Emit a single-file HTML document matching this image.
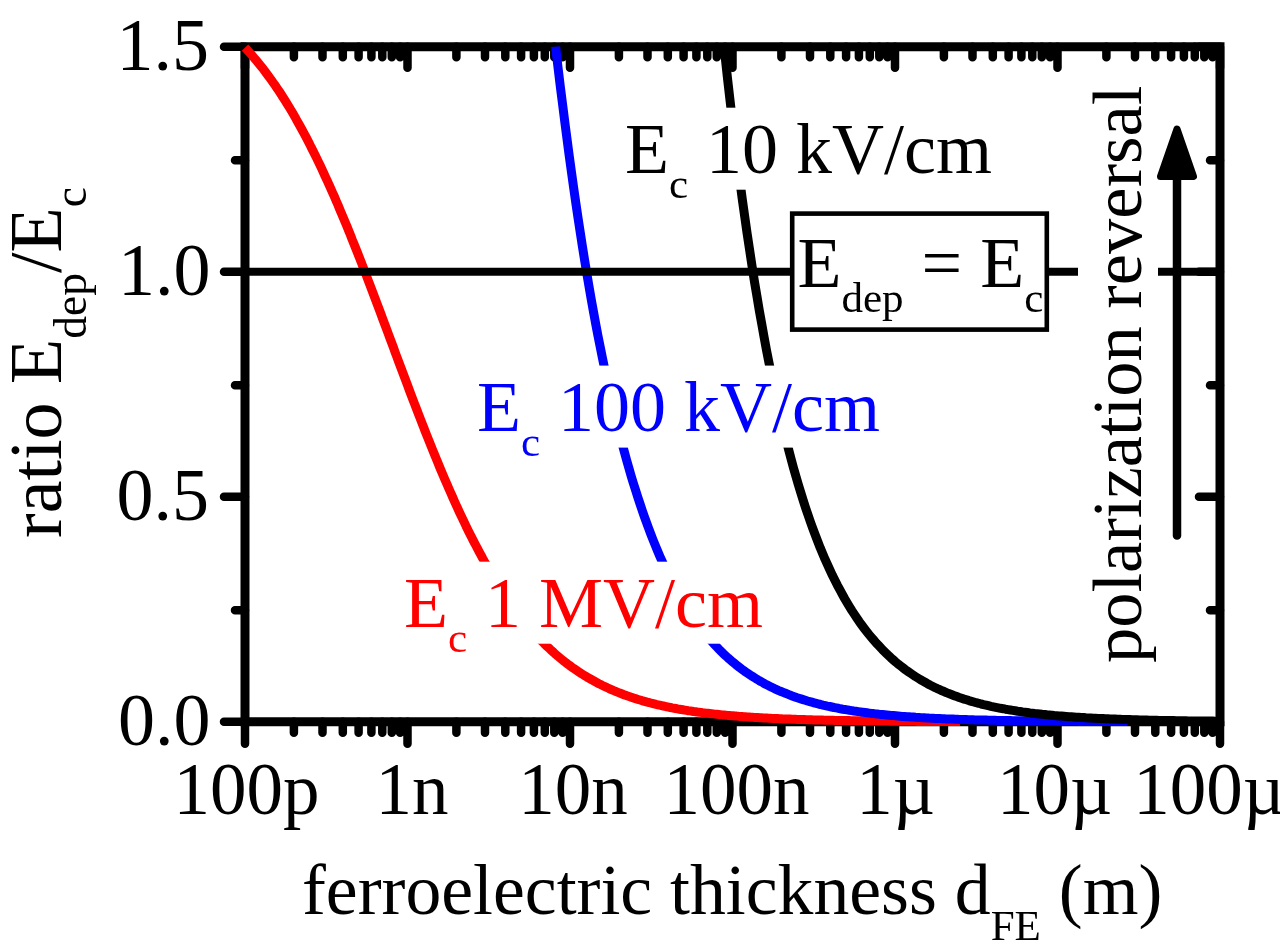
<!DOCTYPE html>
<html lang="en"><head><meta charset="utf-8"><title>Depolarization field ratio vs ferroelectric thickness</title>
<style>
html,body{margin:0;padding:0;background:#fff;}
body{width:1280px;height:951px;overflow:hidden;}
svg{display:block;filter:blur(0.75px);}
text{font-family:"Liberation Serif","Times New Roman",serif;font-size:72px;fill:#000;}
.sub{font-size:43px;}
.ax{stroke:#000;stroke-width:9;fill:none;stroke-linecap:round;}
.tk{stroke:#000;stroke-width:8.5;fill:none;stroke-linecap:round;}
.cv{fill:none;stroke-width:9;stroke-linejoin:round;stroke-linecap:butt;}
</style></head><body>
<svg width="1280" height="951" viewBox="0 0 1280 951">
<rect x="0" y="0" width="1280" height="951" fill="#fff"/>
<g class="ax">
<path d="M245.0 46.7 H1220.0 V721.8 H245.0 Z" stroke-linejoin="miter"/>
</g>
<g class="tk">
<path d="M245.0 721.8 v22 M245.0 46.7 v21 M293.9 721.8 v11 M293.9 46.7 v10.5 M322.5 721.8 v11 M322.5 46.7 v10.5 M342.8 721.8 v11 M342.8 46.7 v10.5 M358.6 721.8 v11 M358.6 46.7 v10.5 M371.4 721.8 v11 M371.4 46.7 v10.5 M382.3 721.8 v11 M382.3 46.7 v10.5 M391.8 721.8 v11 M391.8 46.7 v10.5 M400.1 721.8 v11 M400.1 46.7 v10.5 M407.5 721.8 v22 M407.5 46.7 v21 M456.4 721.8 v11 M456.4 46.7 v10.5 M485.0 721.8 v11 M485.0 46.7 v10.5 M505.3 721.8 v11 M505.3 46.7 v10.5 M521.1 721.8 v11 M521.1 46.7 v10.5 M533.9 721.8 v11 M533.9 46.7 v10.5 M544.8 721.8 v11 M544.8 46.7 v10.5 M554.3 721.8 v11 M554.3 46.7 v10.5 M562.6 721.8 v11 M562.6 46.7 v10.5 M570.0 721.8 v22 M570.0 46.7 v21 M618.9 721.8 v11 M618.9 46.7 v10.5 M647.5 721.8 v11 M647.5 46.7 v10.5 M667.8 721.8 v11 M667.8 46.7 v10.5 M683.6 721.8 v11 M683.6 46.7 v10.5 M696.4 721.8 v11 M696.4 46.7 v10.5 M707.3 721.8 v11 M707.3 46.7 v10.5 M716.8 721.8 v11 M716.8 46.7 v10.5 M725.1 721.8 v11 M725.1 46.7 v10.5 M732.5 721.8 v22 M732.5 46.7 v21 M781.4 721.8 v11 M781.4 46.7 v10.5 M810.0 721.8 v11 M810.0 46.7 v10.5 M830.3 721.8 v11 M830.3 46.7 v10.5 M846.1 721.8 v11 M846.1 46.7 v10.5 M858.9 721.8 v11 M858.9 46.7 v10.5 M869.8 721.8 v11 M869.8 46.7 v10.5 M879.3 721.8 v11 M879.3 46.7 v10.5 M887.6 721.8 v11 M887.6 46.7 v10.5 M895.0 721.8 v22 M895.0 46.7 v21 M943.9 721.8 v11 M943.9 46.7 v10.5 M972.5 721.8 v11 M972.5 46.7 v10.5 M992.8 721.8 v11 M992.8 46.7 v10.5 M1008.6 721.8 v11 M1008.6 46.7 v10.5 M1021.4 721.8 v11 M1021.4 46.7 v10.5 M1032.3 721.8 v11 M1032.3 46.7 v10.5 M1041.8 721.8 v11 M1041.8 46.7 v10.5 M1050.1 721.8 v11 M1050.1 46.7 v10.5 M1057.5 721.8 v22 M1057.5 46.7 v21 M1106.4 721.8 v11 M1106.4 46.7 v10.5 M1135.0 721.8 v11 M1135.0 46.7 v10.5 M1155.3 721.8 v11 M1155.3 46.7 v10.5 M1171.1 721.8 v11 M1171.1 46.7 v10.5 M1183.9 721.8 v11 M1183.9 46.7 v10.5 M1194.8 721.8 v11 M1194.8 46.7 v10.5 M1204.3 721.8 v11 M1204.3 46.7 v10.5 M1212.6 721.8 v11 M1212.6 46.7 v10.5 M1220.0 721.8 v22 M1220.0 46.7 v21 M245.0 721.8 h-21 M1220.0 721.8 h-21 M245.0 610.3 h-10 M1220.0 610.3 h-10 M245.0 496.8 h-21 M1220.0 496.8 h-21 M245.0 385.2 h-10 M1220.0 385.2 h-10 M245.0 271.7 h-21 M1220.0 271.7 h-21 M245.0 160.2 h-10 M1220.0 160.2 h-10 M245.0 46.7 h-21 M1220.0 46.7 h-21"/>
</g>
<g class="cv">
<path stroke="#ff0000" d="M245.0 47.6 L246.8 49.5 L248.6 51.5 L250.4 53.5 L252.2 55.5 L253.9 57.6 L255.7 59.7 L257.5 61.9 L259.3 64.1 L261.1 66.3 L262.9 68.6 L264.7 70.9 L266.4 73.3 L268.2 75.7 L270.0 78.1 L271.8 80.6 L273.6 83.2 L275.4 85.7 L277.2 88.4 L279.0 91.0 L280.8 93.8 L282.5 96.5 L284.3 99.3 L286.1 102.2 L287.9 105.1 L289.7 108.0 L291.5 111.0 L293.3 114.1 L295.1 117.2 L296.8 120.3 L298.6 123.5 L300.4 126.7 L302.2 130.0 L304.0 133.3 L305.8 136.7 L307.6 140.1 L309.4 143.6 L311.1 147.1 L312.9 150.6 L314.7 154.2 L316.5 157.9 L318.3 161.6 L320.1 165.3 L321.9 169.1 L323.6 172.9 L325.4 176.8 L327.2 180.7 L329.0 184.6 L330.8 188.6 L332.6 192.7 L334.4 196.7 L336.2 200.9 L338.0 205.0 L339.7 209.2 L341.5 213.4 L343.3 217.7 L345.1 222.0 L346.9 226.3 L348.7 230.7 L350.5 235.1 L352.2 239.6 L354.0 244.0 L355.8 248.5 L357.6 253.0 L359.4 257.6 L361.2 262.2 L363.0 266.8 L364.8 271.4 L366.6 276.1 L368.3 280.7 L370.1 285.4 L371.9 290.1 L373.7 294.8 L375.5 299.6 L377.3 304.3 L379.1 309.1 L380.9 313.9 L382.6 318.6 L384.4 323.4 L386.2 328.2 L388.0 333.0 L389.8 337.8 L391.6 342.6 L393.4 347.4 L395.1 352.2 L396.9 357.0 L398.7 361.8 L400.5 366.6 L402.3 371.4 L404.1 376.2 L405.9 380.9 L407.7 385.7 L409.4 390.4 L411.2 395.1 L413.0 399.8 L414.8 404.5 L416.6 409.2 L418.4 413.8 L420.2 418.5 L422.0 423.1 L423.8 427.6 L425.5 432.2 L427.3 436.7 L429.1 441.2 L430.9 445.7 L432.7 450.1 L434.5 454.5 L436.3 458.9 L438.1 463.2 L439.8 467.5 L441.6 471.8 L443.4 476.0 L445.2 480.2 L447.0 484.3 L448.8 488.5 L450.6 492.5 L452.4 496.6 L454.1 500.5 L455.9 504.5 L457.7 508.4 L459.5 512.3 L461.3 516.1 L463.1 519.9 L464.9 523.6 L466.6 527.3 L468.4 530.9 L470.2 534.5 L472.0 538.1 L473.8 541.6 L475.6 545.0 L477.4 548.4 L479.2 551.8 L481.0 555.1 L482.7 558.4 L484.5 561.6 L486.3 564.8 L488.1 567.9 L489.9 571.0 L491.7 574.0 L493.5 577.0 L495.2 580.0 L497.0 582.9 L498.8 585.7 L500.6 588.5 L502.4 591.3 L504.2 594.0 L506.0 596.7 L507.8 599.3 L509.6 601.9 L511.3 604.4 L513.1 606.9 L514.9 609.4 L516.7 611.8 L518.5 614.1 L520.3 616.4 L522.1 618.7 L523.9 621.0 L525.6 623.1 L527.4 625.3 L529.2 627.4 L531.0 629.5 L532.8 631.5 L534.6 633.5 L536.4 635.5 L538.2 637.4 L539.9 639.3 L541.7 641.1 L543.5 642.9 L545.3 644.7 L547.1 646.4 L548.9 648.1 L550.7 649.8 L552.5 651.4 L554.2 653.0 L556.0 654.6 L557.8 656.1 L559.6 657.6 L561.4 659.1 L563.2 660.6 L565.0 662.0 L566.8 663.4 L568.5 664.7 L570.3 666.0 L572.1 667.3 L573.9 668.6 L575.7 669.8 L577.5 671.0 L579.3 672.2 L581.0 673.4 L582.8 674.5 L584.6 675.6 L586.4 676.7 L588.2 677.8 L590.0 678.8 L591.8 679.8 L593.6 680.8 L595.4 681.8 L597.1 682.7 L598.9 683.7 L600.7 684.6 L602.5 685.5 L604.3 686.3 L606.1 687.2 L607.9 688.0 L609.7 688.8 L611.4 689.6 L613.2 690.4 L615.0 691.1 L616.8 691.9 L618.6 692.6 L620.4 693.3 L622.2 694.0 L624.0 694.7 L625.7 695.3 L627.5 695.9 L629.3 696.6 L631.1 697.2 L632.9 697.8 L634.7 698.4 L636.5 698.9 L638.2 699.5 L640.0 700.0 L641.8 700.6 L643.6 701.1 L645.4 701.6 L647.2 702.1 L649.0 702.5 L650.8 703.0 L652.5 703.5 L654.3 703.9 L656.1 704.4 L657.9 704.8 L659.7 705.2 L661.5 705.6 L663.3 706.0 L665.1 706.4 L666.9 706.8 L668.6 707.1 L670.4 707.5 L672.2 707.9 L674.0 708.2 L675.8 708.5 L677.6 708.9 L679.4 709.2 L681.2 709.5 L682.9 709.8 L684.7 710.1 L686.5 710.4 L688.3 710.7 L690.1 710.9 L691.9 711.2 L693.7 711.5 L695.5 711.7 L697.2 712.0 L699.0 712.2 L700.8 712.4 L702.6 712.7 L704.4 712.9 L706.2 713.1 L708.0 713.3 L709.8 713.5 L711.5 713.7 L713.3 713.9 L715.1 714.1 L716.9 714.3 L718.7 714.5 L720.5 714.7 L722.3 714.9 L724.0 715.0 L725.8 715.2 L727.6 715.4 L729.4 715.5 L731.2 715.7 L733.0 715.8 L734.8 716.0 L736.6 716.1 L738.4 716.3 L740.1 716.4 L741.9 716.5 L743.7 716.7 L745.5 716.8 L747.3 716.9 L749.1 717.0 L750.9 717.2 L752.7 717.3 L754.4 717.4 L756.2 717.5 L758.0 717.6 L759.8 717.7 L761.6 717.8 L763.4 717.9 L765.2 718.0 L767.0 718.1 L768.7 718.2 L770.5 718.3 L772.3 718.4 L774.1 718.5 L775.9 718.5 L777.7 718.6 L779.5 718.7 L781.2 718.8 L783.0 718.9 L784.8 718.9 L786.6 719.0 L788.4 719.1 L790.2 719.1 L792.0 719.2 L793.8 719.3 L795.5 719.3 L797.3 719.4 L799.1 719.5 L800.9 719.5 L802.7 719.6 L804.5 719.6 L806.3 719.7 L808.1 719.7 L809.9 719.8 L811.6 719.8 L813.4 719.9 L815.2 719.9 L817.0 720.0 L818.8 720.0 L820.6 720.1 L822.4 720.1 L824.2 720.2 L825.9 720.2 L827.7 720.2 L829.5 720.3 L831.3 720.3 L833.1 720.3 L834.9 720.4 L836.7 720.4 L838.5 720.5 L840.2 720.5 L842.0 720.5 L843.8 720.6 L845.6 720.6 L847.4 720.6 L849.2 720.6 L851.0 720.7 L852.8 720.7 L854.5 720.7 L856.3 720.8 L858.1 720.8 L859.9 720.8 L861.7 720.8 L863.5 720.9 L865.3 720.9 L867.1 720.9 L868.8 720.9 L870.6 720.9 L872.4 721.0 L874.2 721.0 L876.0 721.0 L877.8 721.0 L879.6 721.0 L881.4 721.1 L883.1 721.1 L884.9 721.1 L886.7 721.1 L888.5 721.1 L890.3 721.2 L892.1 721.2 L893.9 721.2 L895.7 721.2 L897.4 721.2 L899.2 721.2 L901.0 721.2 L902.8 721.3 L904.6 721.3 L906.4 721.3 L908.2 721.3 L910.0 721.3 L911.7 721.3 L913.5 721.3 L915.3 721.3 L917.1 721.4 L918.9 721.4 L920.7 721.4 L922.5 721.4 L924.3 721.4 L926.0 721.4 L927.8 721.4 L929.6 721.4 L931.4 721.4 L933.2 721.4 L935.0 721.5 L936.8 721.5 L938.5 721.5 L940.3 721.5 L942.1 721.5 L943.9 721.5 L945.7 721.5 L947.5 721.5 L949.3 721.5 L951.1 721.5 L952.9 721.5 L954.6 721.5 L956.4 721.5 L958.2 721.6 L960.0 721.6"/>
<path stroke="#0000ff" d="M555.7 46.7 L556.0 50.0 L558.2 68.9 L560.4 87.3 L562.7 105.2 L564.9 122.7 L567.1 139.7 L569.3 156.3 L571.5 172.4 L573.7 188.2 L575.9 203.5 L578.1 218.4 L580.3 232.8 L582.5 247.0 L584.7 260.7 L586.9 274.0 L589.1 287.0 L591.3 299.7 L593.5 311.9 L595.7 323.9 L597.9 335.5 L600.2 346.8 L602.4 357.8 L604.6 368.5 L606.8 378.9 L609.0 389.0 L611.2 398.8 L613.4 408.3 L615.6 417.6 L617.8 426.6 L620.0 435.3 L622.2 443.8 L624.4 452.0 L626.6 460.1 L628.8 467.8 L631.0 475.4 L633.2 482.7 L635.5 489.9 L637.7 496.8 L639.9 503.5 L642.1 510.1 L644.3 516.4 L646.5 522.6 L648.7 528.5 L650.9 534.3 L653.1 540.0 L655.3 545.4 L657.5 550.7 L659.7 555.9 L661.9 560.9 L664.1 565.7 L666.3 570.4 L668.5 575.0 L670.7 579.4 L673.0 583.7 L675.2 587.9 L677.4 592.0 L679.6 595.9 L681.8 599.7 L684.0 603.4 L686.2 607.0 L688.4 610.5 L690.6 613.9 L692.8 617.1 L695.0 620.3 L697.2 623.4 L699.4 626.4 L701.6 629.3 L703.8 632.1 L706.0 634.8 L708.2 637.5 L710.5 640.0 L712.7 642.5 L714.9 644.9 L717.1 647.3 L719.3 649.6 L721.5 651.8 L723.7 653.9 L725.9 656.0 L728.1 658.0 L730.3 659.9 L732.5 661.8 L734.7 663.6 L736.9 665.4 L739.1 667.1 L741.3 668.8 L743.5 670.4 L745.7 672.0 L748.0 673.5 L750.2 675.0 L752.4 676.4 L754.6 677.8 L756.8 679.2 L759.0 680.5 L761.2 681.7 L763.4 683.0 L765.6 684.2 L767.8 685.3 L770.0 686.4 L772.2 687.5 L774.4 688.6 L776.6 689.6 L778.8 690.6 L781.0 691.5 L783.2 692.4 L785.5 693.3 L787.7 694.2 L789.9 695.1 L792.1 695.9 L794.3 696.7 L796.5 697.5 L798.7 698.2 L800.9 698.9 L803.1 699.6 L805.3 700.3 L807.5 701.0 L809.7 701.6 L811.9 702.2 L814.1 702.8 L816.3 703.4 L818.5 704.0 L820.7 704.5 L823.0 705.1 L825.2 705.6 L827.4 706.1 L829.6 706.5 L831.8 707.0 L834.0 707.5 L836.2 707.9 L838.4 708.3 L840.6 708.8 L842.8 709.2 L845.0 709.5 L847.2 709.9 L849.4 710.3 L851.6 710.6 L853.8 711.0 L856.0 711.3 L858.3 711.6 L860.5 711.9 L862.7 712.2 L864.9 712.5 L867.1 712.8 L869.3 713.1 L871.5 713.4 L873.7 713.6 L875.9 713.9 L878.1 714.1 L880.3 714.4 L882.5 714.6 L884.7 714.8 L886.9 715.0 L889.1 715.2 L891.3 715.4 L893.5 715.6 L895.8 715.8 L898.0 716.0 L900.2 716.2 L902.4 716.4 L904.6 716.5 L906.8 716.7 L909.0 716.8 L911.2 717.0 L913.4 717.1 L915.6 717.3 L917.8 717.4 L920.0 717.6 L922.2 717.7 L924.4 717.8 L926.6 717.9 L928.8 718.1 L931.0 718.2 L933.3 718.3 L935.5 718.4 L937.7 718.5 L939.9 718.6 L942.1 718.7 L944.3 718.8 L946.5 718.9 L948.7 719.0 L950.9 719.1 L953.1 719.1 L955.3 719.2 L957.5 719.3 L959.7 719.4 L961.9 719.5 L964.1 719.5 L966.3 719.6 L968.5 719.7 L970.8 719.7 L973.0 719.8 L975.2 719.9 L977.4 719.9 L979.6 720.0 L981.8 720.0 L984.0 720.1 L986.2 720.1 L988.4 720.2 L990.6 720.2 L992.8 720.3 L995.0 720.3 L997.2 720.4 L999.4 720.4 L1001.6 720.5 L1003.8 720.5 L1006.0 720.5 L1008.3 720.6 L1010.5 720.6 L1012.7 720.7 L1014.9 720.7 L1017.1 720.7 L1019.3 720.8 L1021.5 720.8 L1023.7 720.8 L1025.9 720.9 L1028.1 720.9 L1030.3 720.9 L1032.5 720.9 L1034.7 721.0 L1036.9 721.0 L1039.1 721.0 L1041.3 721.0 L1043.5 721.1 L1045.8 721.1 L1048.0 721.1 L1050.2 721.1 L1052.4 721.1 L1054.6 721.2 L1056.8 721.2 L1059.0 721.2 L1061.2 721.2 L1063.4 721.2 L1065.6 721.3 L1067.8 721.3 L1070.0 721.3 L1072.2 721.3 L1074.4 721.3 L1076.6 721.3 L1078.8 721.4 L1081.1 721.4 L1083.3 721.4 L1085.5 721.4 L1087.7 721.4 L1089.9 721.4 L1092.1 721.4 L1094.3 721.4 L1096.5 721.5 L1098.7 721.5 L1100.9 721.5 L1103.1 721.5 L1105.3 721.5 L1107.5 721.5 L1109.7 721.5 L1111.9 721.5 L1114.1 721.5 L1116.3 721.5 L1118.6 721.5 L1120.8 721.6 L1123.0 721.6 L1125.2 721.6 L1127.4 721.6"/>
<path stroke="#000000" d="M724.1 46.7 L725.2 56.9 L727.6 79.3 L730.1 100.9 L732.5 121.8 L734.9 142.0 L737.4 161.6 L739.8 180.4 L742.2 198.7 L744.7 216.3 L747.1 233.4 L749.6 249.9 L752.0 265.8 L754.4 281.2 L756.9 296.1 L759.3 310.4 L761.8 324.3 L764.2 337.7 L766.6 350.7 L769.1 363.3 L771.5 375.4 L773.9 387.1 L776.4 398.4 L778.8 409.3 L781.2 419.9 L783.7 430.1 L786.1 440.0 L788.6 449.5 L791.0 458.7 L793.4 467.6 L795.9 476.2 L798.3 484.5 L800.8 492.6 L803.2 500.3 L805.6 507.8 L808.1 515.1 L810.5 522.1 L812.9 528.8 L815.4 535.4 L817.8 541.7 L820.2 547.8 L822.7 553.7 L825.1 559.4 L827.6 564.9 L830.0 570.2 L832.4 575.3 L834.9 580.3 L837.3 585.1 L839.8 589.7 L842.2 594.2 L844.6 598.5 L847.1 602.7 L849.5 606.7 L851.9 610.6 L854.4 614.4 L856.8 618.0 L859.2 621.6 L861.7 625.0 L864.1 628.2 L866.6 631.4 L869.0 634.5 L871.4 637.4 L873.9 640.3 L876.3 643.1 L878.8 645.7 L881.2 648.3 L883.6 650.8 L886.1 653.2 L888.5 655.5 L890.9 657.8 L893.4 660.0 L895.8 662.1 L898.2 664.1 L900.7 666.0 L903.1 667.9 L905.6 669.8 L908.0 671.5 L910.4 673.2 L912.9 674.9 L915.3 676.5 L917.8 678.0 L920.2 679.5 L922.6 680.9 L925.1 682.3 L927.5 683.7 L929.9 685.0 L932.4 686.2 L934.8 687.4 L937.2 688.6 L939.7 689.7 L942.1 690.8 L944.6 691.8 L947.0 692.9 L949.4 693.8 L951.9 694.8 L954.3 695.7 L956.8 696.6 L959.2 697.5 L961.6 698.3 L964.1 699.1 L966.5 699.8 L968.9 700.6 L971.4 701.3 L973.8 702.0 L976.2 702.7 L978.7 703.3 L981.1 704.0 L983.6 704.6 L986.0 705.1 L988.4 705.7 L990.9 706.3 L993.3 706.8 L995.8 707.3 L998.2 707.8 L1000.6 708.3 L1003.1 708.7 L1005.5 709.2 L1007.9 709.6 L1010.4 710.0 L1012.8 710.4 L1015.2 710.8 L1017.7 711.2 L1020.1 711.5 L1022.6 711.9 L1025.0 712.2 L1027.4 712.5 L1029.9 712.9 L1032.3 713.2 L1034.8 713.5 L1037.2 713.7 L1039.6 714.0 L1042.1 714.3 L1044.5 714.5 L1046.9 714.8 L1049.4 715.0 L1051.8 715.2 L1054.2 715.5 L1056.7 715.7 L1059.1 715.9 L1061.6 716.1 L1064.0 716.3 L1066.4 716.5 L1068.9 716.7 L1071.3 716.8 L1073.8 717.0 L1076.2 717.2 L1078.6 717.3 L1081.1 717.5 L1083.5 717.6 L1085.9 717.8 L1088.4 717.9 L1090.8 718.0 L1093.2 718.2 L1095.7 718.3 L1098.1 718.4 L1100.6 718.5 L1103.0 718.6 L1105.4 718.7 L1107.9 718.8 L1110.3 718.9 L1112.8 719.0 L1115.2 719.1 L1117.6 719.2 L1120.1 719.3 L1122.5 719.4 L1124.9 719.5 L1127.4 719.6 L1129.8 719.6 L1132.2 719.7 L1134.7 719.8 L1137.1 719.8 L1139.6 719.9 L1142.0 720.0 L1144.4 720.0 L1146.9 720.1 L1149.3 720.2 L1151.8 720.2 L1154.2 720.3 L1156.6 720.3 L1159.1 720.4 L1161.5 720.4 L1163.9 720.5 L1166.4 720.5 L1168.8 720.6 L1171.2 720.6 L1173.7 720.6 L1176.1 720.7 L1178.6 720.7 L1181.0 720.7 L1183.4 720.8 L1185.9 720.8 L1188.3 720.9 L1190.8 720.9 L1193.2 720.9 L1195.6 720.9 L1198.1 721.0 L1200.5 721.0 L1202.9 721.0 L1205.4 721.1 L1207.8 721.1 L1210.2 721.1 L1212.7 721.1 L1215.1 721.2 L1217.6 721.2 L1220.0 721.2"/>
</g>
<path d="M245.0 271.7 H1220.0" stroke="#000" stroke-width="8" fill="none"/>
<text x="209.0" y="69.9" text-anchor="end" style="font-size:74px">1.5</text>
<text x="210.5" y="294.9" text-anchor="end" style="font-size:74px">1.0</text>
<text x="209.0" y="520.0" text-anchor="end" style="font-size:74px">0.5</text>
<text x="210.5" y="745.0" text-anchor="end" style="font-size:74px">0.0</text>
<text x="246.5" y="814.3" text-anchor="middle" style="font-size:73px">100p</text>
<text x="412.0" y="814.3" text-anchor="middle" style="font-size:73px">1n</text>
<text x="573.0" y="814.3" text-anchor="middle" style="font-size:73px">10n</text>
<text x="736.5" y="814.3" text-anchor="middle" style="font-size:73px">100n</text>
<text x="895.5" y="814.3" text-anchor="middle" style="font-size:73px">1µ</text>
<text x="1054.5" y="814.3" text-anchor="middle" style="font-size:73px">10µ</text>
<text x="1209.0" y="814.3" text-anchor="middle" style="font-size:73px">100µ</text>
<text x="302" y="913.5" style="font-size:71.7px">ferroelectric thickness d<tspan class="sub" dy="26">FE</tspan><tspan dy="-26"> (m)</tspan></text>
<text transform="translate(60.5 538) rotate(-90)" style="font-size:74px">ratio E<tspan class="sub" style="font-size:45.5px" dy="25">dep</tspan><tspan dy="-25">/E</tspan><tspan class="sub" style="font-size:45.5px" dy="25">c</tspan></text>
<rect x="623.0" y="107.7" width="366.0" height="82" fill="#fff"/>
<text x="625.0" y="172.7" style="fill:#000">E<tspan class="sub" dy="25">c</tspan><tspan dy="-25"> 10 kV/cm</tspan></text>
<rect x="475.0" y="365.6" width="406.0" height="82" fill="#fff"/>
<text x="477.0" y="430.6" style="fill:#0000ff">E<tspan class="sub" dy="25">c</tspan><tspan dy="-25"> 100 kV/cm</tspan></text>
<rect x="402.0" y="561.7" width="357.0" height="82" fill="#fff"/>
<text x="404.0" y="626.7" style="fill:#ff0000">E<tspan class="sub" dy="25">c</tspan><tspan dy="-25"> 1 MV/cm</tspan></text>
<rect x="792.2" y="213.6" width="254.6" height="116" fill="#fff" stroke="#000" stroke-width="4.6"/>
<text x="797.5" y="287.3">E<tspan class="sub" dy="25">dep</tspan><tspan dy="-25"> = E</tspan><tspan class="sub" dy="25">c</tspan></text>
<rect x="1078" y="80" width="80" height="590" fill="#fff"/>
<text transform="translate(1141 663) rotate(-90)" style="font-size:70.5px">polarization reversal</text>
<path d="M1177 535.5 V170" stroke="#000" stroke-width="8.5" stroke-linecap="round" fill="none"/>
<path d="M1177 129 L1193.5 176.5 H1160.5 Z" fill="#000" stroke="#000" stroke-width="7" stroke-linejoin="round"/>
</svg>
</body></html>
